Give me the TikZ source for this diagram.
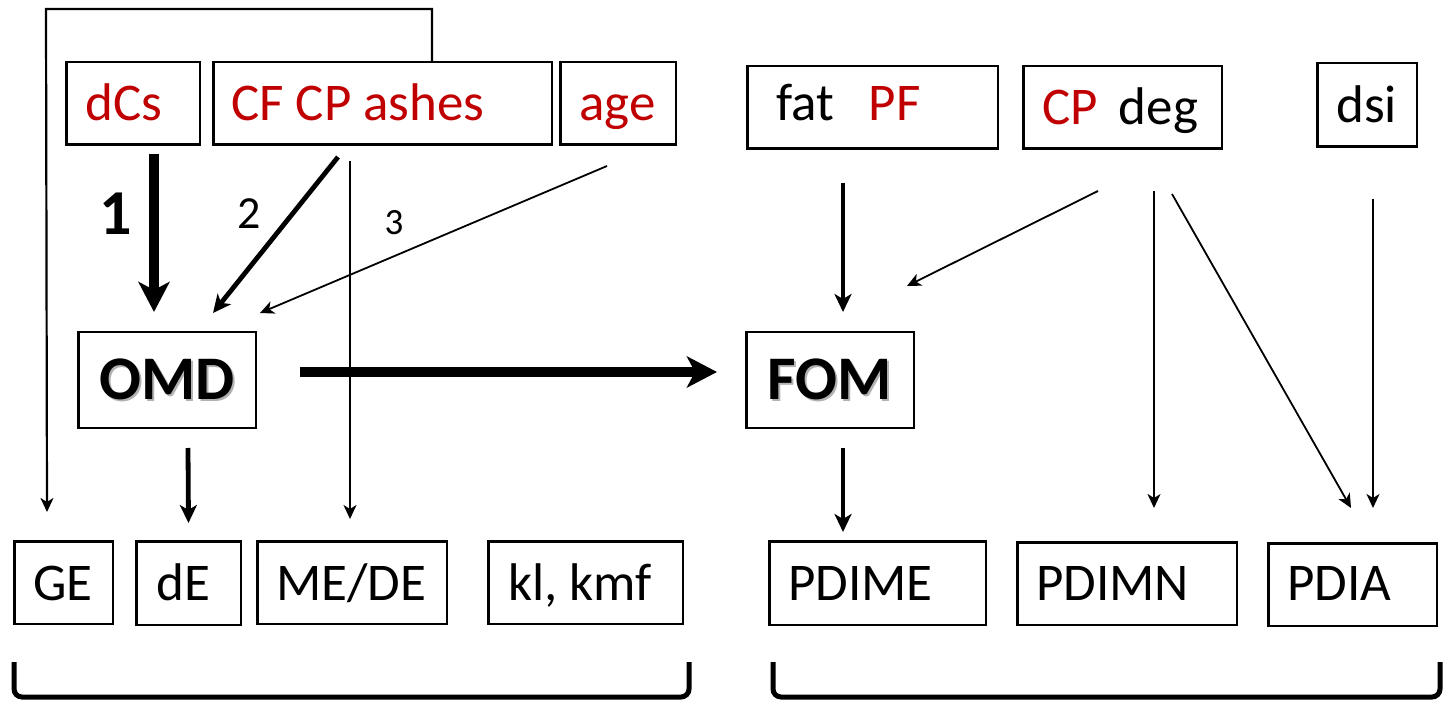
\documentclass[tikz,border=0pt]{standalone}
\usepackage{fontspec}
\setmainfont{Carlito}
\usetikzlibrary{arrows.meta}
\definecolor{dred}{RGB}{192,0,0}
\newcommand{\shadowtxt}[1]{\makebox[0pt][l]{\hspace{2pt}\raisebox{-2pt}{\color{black!30}#1}}#1}
\tikzset{
 box/.style={draw=black, line width=2.5pt, inner sep=0pt},
 txt/.style={anchor=base west, inner sep=0pt, font=\fontsize{53pt}{60pt}\selectfont},
 bigtxt/.style={font=\fontsize{62pt}{70pt}\selectfont\bfseries},
 thinarr/.style={line width=1.8pt, -{Stealth[length=14pt,width=13pt,inset=4pt]}},
 medarr/.style={line width=4.8pt, -{Stealth[length=18pt,width=17pt,inset=5pt]}},
 thickarr/.style={line width=10pt, -{Stealth[length=30pt,width=31pt,inset=8pt]}},
 bracket/.style={line width=5pt, rounded corners=8pt},
}
\begin{document}
\begin{tikzpicture}[x=1pt,y=-1pt]
\useasboundingbox (0,0) rectangle (1444,703);
% boxes
\node[box, minimum width=133.5pt, minimum height=82.5pt] (dcs) at (133,103.5) {};
\node[box, minimum width=338.5pt, minimum height=82.5pt] (cf) at (382.5,103.5) {};
\node[box, minimum width=115.5pt, minimum height=82.5pt] (age) at (618,103.5) {};
\node[box, minimum width=250.5pt, minimum height=82.5pt] (fatpf) at (872.5,107.5) {};
\node[box, minimum width=198.5pt, minimum height=82.5pt] (cpdeg) at (1122.5,107.5) {};
\node[box, minimum width=99.5pt, minimum height=83.5pt] (dsi) at (1367,105) {};
\node[box, bigtxt, minimum width=177.5pt, minimum height=95.5pt] (omd) at (167,380) {\shadowtxt{OMD}};
\node[box, bigtxt, minimum width=167.5pt, minimum height=95.5pt] (fom) at (830,380) {\shadowtxt{FOM}};
\node[box, minimum width=98.5pt, minimum height=82.5pt] (ge) at (63.5,582.5) {};
\node[box, minimum width=104.5pt, minimum height=83.5pt] (de) at (188.5,583) {};
\node[box, minimum width=189.5pt, minimum height=82.5pt] (mede) at (352,582.5) {};
\node[box, minimum width=194.5pt, minimum height=82.5pt] (kl) at (585.5,582.5) {};
\node[box, minimum width=216.5pt, minimum height=83.5pt] (pdime) at (877.5,583) {};
\node[box, minimum width=219.5pt, minimum height=82.5pt] (pdimn) at (1127,583.5) {};
\node[box, minimum width=168.5pt, minimum height=82.5pt] (pdia) at (1352.5,584.5) {};
% texts
\node[txt, text=dred] (tdcs) at (85,121) {dCs};
\node[txt, text=dred] (tcf) at (231,121) {CF CP ashes};
\node[txt, text=dred] (tage) at (579,121) {age};
\node[txt] (tfat) at (776,121) {fat\hspace{35pt}\textcolor{dred}{PF}};
\node[txt] (tcp) at (1042,125) {\textcolor{dred}{CP}\hspace{21pt}deg};
\node[txt] (tdsi) at (1336,123) {dsi};
\node[txt] (tge) at (33,600) {GE};
\node[txt] (tde) at (156,600) {dE};
\node[txt] (tmede) at (276,600) {ME/DE};
\node[txt] (tkl) at (508,600) {kl, kmf};
\node[txt] (tpdime) at (788,600) {PDIME};
\node[txt] (tpdimn) at (1036,600) {PDIMN};
\node[txt] (tpdia) at (1287,600) {PDIA};
% numbers
\node[anchor=base, inner sep=0pt, font=\fontsize{64pt}{70pt}\selectfont\bfseries] (n1) at (115.5,235) {1};
\node[anchor=base, inner sep=0pt, font=\fontsize{46pt}{52pt}\selectfont] (n2) at (249.5,229) {2};
\node[anchor=base, inner sep=0pt, font=\fontsize{37pt}{42pt}\selectfont] (n3) at (394,235) {3};
% loop connector
\coordinate (loopR) at (432,9);
\coordinate (loopL) at (46,9);
\draw[thinarr, line width=2.2pt] ([xshift=49.5pt]cf.north) -- (loopR) -- (loopL) -- ([xshift=-16.5pt,yshift=28pt]ge.north);
% arrows
\draw[thickarr] ([xshift=21pt,yshift=-8pt]dcs.south) -- ([xshift=-13pt,yshift=19pt]omd.north);
\draw[medarr] ([xshift=-44.5pt,yshift=-11pt]cf.south) -- ([xshift=46pt,yshift=18pt]omd.north);
\draw[thinarr] ([xshift=-11pt,yshift=-20pt]age.south) -- ([xshift=93pt,yshift=18pt]omd.north);
\draw[thinarr] ([xshift=-32.5pt,yshift=-15pt]cf.south) -- ([xshift=-2pt,yshift=21pt]mede.north);
\draw[thickarr] ([xshift=43pt,yshift=8pt]omd.east) -- ([xshift=-28pt,yshift=8pt]fom.west);
\draw[medarr] ([xshift=21pt,yshift=-19pt]omd.south) -- ([yshift=17pt]de.north);
\draw[medarr] ([xshift=-29.5pt,yshift=-33pt]fatpf.south) -- ([xshift=13pt,yshift=19pt]fom.north);
\draw[thinarr] ([xshift=-24.5pt,yshift=-41pt]cpdeg.south) -- ([xshift=77pt,yshift=45pt]fom.north);
\draw[thinarr] ([xshift=31.5pt,yshift=-41pt]cpdeg.south) -- ([xshift=27pt,yshift=33pt]pdimn.north);
\draw[thinarr] ([xshift=49.5pt,yshift=-44pt]cpdeg.south) -- ([xshift=-1.5pt,yshift=34pt]pdia.north);
\draw[thinarr] ([xshift=6pt,yshift=-51pt]dsi.south) -- ([xshift=20.5pt,yshift=34pt]pdia.north);
\draw[medarr] ([xshift=13pt,yshift=-19pt]fom.south) -- ([xshift=-34.5pt,yshift=8pt]pdime.north);
% brackets
\draw[bracket] (14,662) -- (14,697) -- (689,697) -- (689,662);
\draw[bracket] (773,662) -- (773,697) -- (1440,697) -- (1440,662);
\end{tikzpicture}
\end{document}
